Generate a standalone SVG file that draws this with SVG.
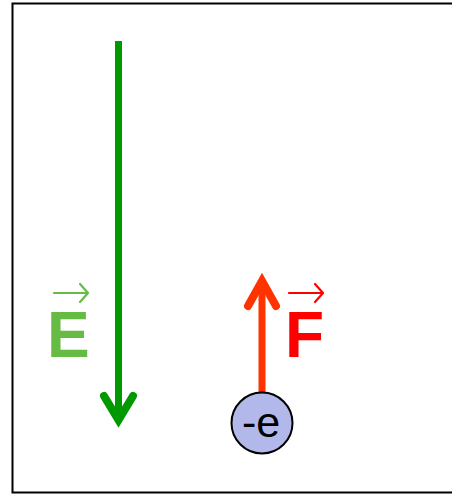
<svg xmlns="http://www.w3.org/2000/svg" width="452" height="495" viewBox="0 0 452 495">
<style>
.lbl{font-family:"Liberation Sans",Arial,sans-serif;font-weight:bold;font-size:64px}
.vec{fill:none;stroke-width:2.2;stroke-linecap:round;stroke-linejoin:round}
</style>
<rect x="0" y="0" width="452" height="495" fill="#fff"/>
<rect x="12.5" y="3.5" width="446" height="489" fill="none" stroke="#000" stroke-width="2"/>
<g id="connectors">
  <g id="E-arrow" fill="none" stroke="#009900" stroke-width="7" stroke-linecap="round" stroke-linejoin="miter">
    <line x1="118.5" y1="41" x2="118.5" y2="418" stroke-linecap="butt"/>
    <polyline points="104,396 118.5,420 133,396" stroke-linecap="round" stroke-width="8"/>
  </g>
  <g id="F-arrow" fill="none" stroke="#ff3300" stroke-width="7">
    <line x1="262" y1="394" x2="262" y2="284"/>
    <polyline points="248,306 262,281 276,306" stroke-linecap="round" stroke-width="8"/>
  </g>
</g>
<g id="E-label">
  <path class="vec" stroke="#66bb44" d="M54,293 H88 M80,284 L88,293 L80,302"/>
  <text class="lbl" x="47" y="357" fill="#66bb44">E</text>
</g>
<g id="F-label">
  <path class="vec" stroke="#ff0000" d="M289,293 H323 M315,284 L323,293 L315,302"/>
  <text class="lbl" x="285" y="357" fill="#ff0000">F</text>
</g>
<g id="electron">
  <circle cx="262" cy="423" r="30.5" fill="#b3b8ea" stroke="#000" stroke-width="2"/>
  <text x="261" y="437" text-anchor="middle" font-family="Liberation Sans,Arial,sans-serif" font-size="43" fill="#000">-e</text>
</g>
</svg>
